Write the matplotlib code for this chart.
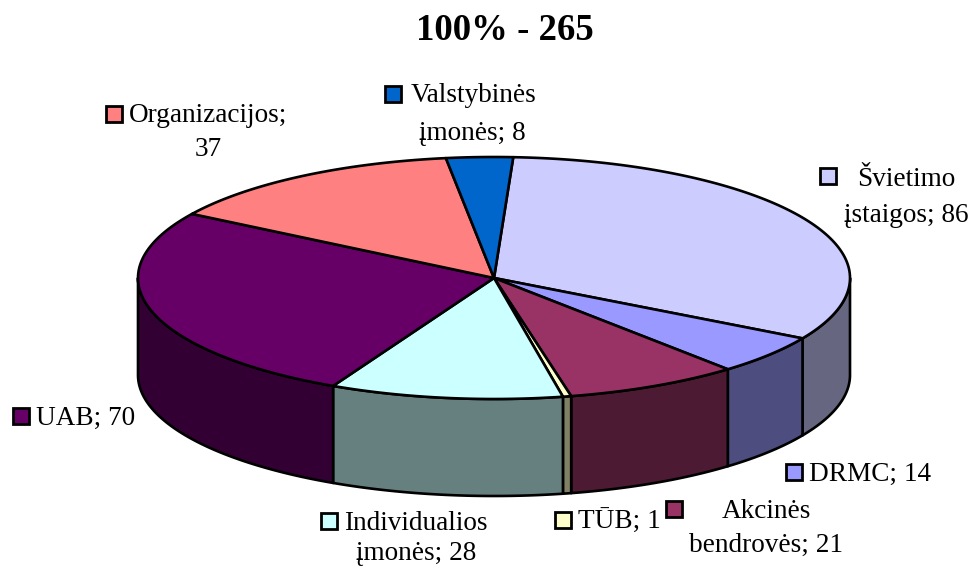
import numpy as np
import matplotlib
matplotlib.use("Agg")
import matplotlib.pyplot as plt
from matplotlib.patches import Polygon, Rectangle

categories = ["Švietimo įstaigos", "DRMC", "Akcinės bendrovės", "TŪB",
              "Individualios įmonės", "UAB", "Organizacijos", "Valstybinės įmonės"]
values = [86, 14, 21, 1, 28, 70, 37, 8]
top_colors = ["#CCCCFF", "#9999FF", "#993366", "#FFFFCC",
              "#CCFFFF", "#660066", "#FF8080", "#0066CC"]
side_colors = ["#666680", "#4D4D80", "#4D1A33", "#808066",
               "#668080", "#330033", "#804040", "#003366"]
title_text = "100% - 265"
start_angle = 3.1
cx, cy, rx, ry, depth = 494.0, 278.0, 356.0, 121.0, 97.0

labels = [
    ("Švietimo", 906, 179), ("įstaigos; 86", 906, 215),
    ("DRMC; 14", 870, 474), ("Akcinės", 766, 511), ("bendrovės; 21", 766, 545),
    ("TŪB; 1", 619, 522), ("Individualios", 416, 523), ("įmonės; 28", 416, 554),
    ("UAB; 70", 86, 418), ("Organizacijos;", 208, 116), ("37", 208, 149),
    ("Valstybinės", 474, 96), ("įmonės; 8", 472, 134),
]
keys = [(828, 176, 0), (794, 472, 1), (674, 509, 2), (563, 520, 3),
        (329, 521, 4), (21, 416, 5), (114, 114, 6), (393, 94, 7)]

fig = plt.figure(figsize=(9.71, 5.68), dpi=100)
ax = fig.add_axes([0, 0, 1, 1])
ax.set_xlim(0, 971)
ax.set_ylim(568, 0)
ax.axis("off")

def ell(deg):
    t = np.radians(deg)
    return cx + rx * np.sin(t), cy - ry * np.cos(t)

edges = start_angle + np.concatenate([[0], np.cumsum(values)]) * 360.0 / sum(values)
LW = 1.9

# side walls: only the front half (90..270 degrees) is visible
for i in range(len(values)):
    a, b = max(edges[i], 90), min(edges[i + 1], 270)
    if a >= b:
        continue
    th = np.linspace(a, b, 120)
    x, y = ell(th)
    pts = np.vstack([np.c_[x, y], np.c_[x[::-1], y[::-1] + depth]])
    ax.add_patch(Polygon(pts, closed=True, fc=side_colors[i], ec="black", lw=LW,
                         joinstyle="round", zorder=2))

# top faces
for i in range(len(values)):
    th = np.linspace(edges[i], edges[i + 1], 200)
    x, y = ell(th)
    pts = np.vstack([[cx, cy], np.c_[x, y]])
    ax.add_patch(Polygon(pts, closed=True, fc=top_colors[i], ec="black", lw=LW,
                         joinstyle="round", zorder=3))

ax.text(505, 30, title_text, ha="center", va="center", fontsize=26.5,
        fontweight="bold", family="Liberation Serif", color="black")
for s, x, y in labels:
    ax.text(x, y, s, ha="center", va="center", fontsize=19.6,
            family="Liberation Serif", color="black")
for x, y, i in keys:
    ax.add_patch(Rectangle((x - 8, y - 8), 16, 16, fc=top_colors[i], ec="black",
                           lw=2.0, zorder=4))

fig.savefig("out.png", dpi=100, facecolor="white")
